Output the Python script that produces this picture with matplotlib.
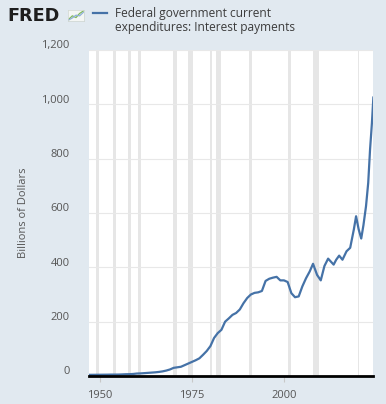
import matplotlib
matplotlib.use('Agg')
import matplotlib.pyplot as plt
from matplotlib.transforms import ScaledTranslation
import numpy as np

# values (billions of dollars)
years = [1947.0, 1948.0, 1949.0, 1950.0, 1951.0, 1952.0, 1953.0, 1954.0, 1955.0,
         1956.0, 1957.0, 1958.0, 1959.0, 1960.0, 1961.0, 1962.0, 1963.0, 1964.0,
         1965.0, 1966.0, 1967.0, 1968.0, 1969.0, 1970.0, 1971.0, 1972.0, 1973.0,
         1974.0, 1975.0, 1976.0, 1977.0, 1978.0, 1979.0, 1980.0, 1981.0, 1982.0,
         1983.0, 1984.0, 1985.0, 1986.0, 1987.0, 1988.0, 1989.0, 1990.0, 1991.0,
         1992.0, 1993.0, 1994.0, 1995.0, 1996.0, 1997.0, 1998.0, 1999.0, 2000.0,
         2001.0, 2002.0, 2003.0, 2004.0, 2005.0, 2006.0, 2007.0, 2007.9, 2009.0,
         2010.0, 2011.0, 2012.0, 2013.5, 2014.2, 2015.0, 2015.9, 2017.0, 2018.0,
         2019.0, 2019.6, 2020.3, 2021.0, 2021.6, 2022.3, 2022.9, 2023.4, 2023.9,
         2024.3]
interest = [4.2, 4.4, 4.5, 4.6, 4.8, 4.9, 5.2, 5.2, 5.3,
            5.8, 6.5, 6.7, 7.5, 9.0, 9.5, 10.5, 11.5, 12.5,
            13.5, 15, 17, 20, 24, 30, 32, 34, 40,
            46, 52, 58, 65, 78, 92, 110, 140, 158,
            170, 200, 212, 225, 232, 245, 268, 287, 300,
            306, 308, 313, 350, 358, 362, 365, 352, 352,
            346, 305, 290, 293, 330, 360, 385, 413, 372,
            352, 405, 432, 410, 428, 443, 428, 459, 472,
            540, 588, 540, 506, 555, 625, 711, 834, 930,
            1025]

recessions = [(1948.8, 1949.8), (1953.5, 1954.3), (1957.6, 1958.3), (1960.3, 1961.1),
              (1969.9, 1970.9), (1973.9, 1975.2), (1980.0, 1980.5), (1981.5, 1982.9),
              (1990.5, 1991.2), (2001.2, 2001.9), (2007.9, 2009.5), (2020.0, 2020.4)]

yticks = [0, 200, 400, 600, 800, 1000, 1200]
xticks = [1950, 1975, 2000]

plt.rcParams['font.family'] = ['Open Sans', 'DejaVu Sans']
bg = '#e1e9f0'
fig = plt.figure(figsize=(3.86, 4.04), dpi=100, facecolor=bg)
ax = fig.add_axes([89 / 386, 1 - 376 / 404, 284 / 386, 326 / 404])
ax.set_facecolor('white')

for a, b in recessions:
    ax.axvspan(a, b, color='#e6e6e6', lw=0, zorder=1)

ax.plot(years, interest, color='#4572a7', lw=1.6, zorder=3)

ax.set_xlim(1947.0, 2024.2)
ax.set_ylim(0, 1200)
ax.set_yticks(yticks)
ax.set_yticklabels(['{:,}'.format(v) for v in yticks], va='bottom')
ax.set_xticks(xticks)
ax.grid(axis='y', color='#e8e8e8', lw=0.8, zorder=0)
for s in ['top', 'right', 'left']:
    ax.spines[s].set_visible(False)
ax.spines['bottom'].set_color('black')
ax.spines['bottom'].set_linewidth(2)
ax.spines['bottom'].set_zorder(4)
ax.tick_params(axis='y', length=0, pad=14, labelsize=8, labelcolor='#555555')
ax.tick_params(axis='x', length=4, width=0.8, color='#c8c8c8', pad=6,
               labelsize=8, labelcolor='#555555')
for lbl in ax.get_yticklabels():
    lbl.set_transform(lbl.get_transform() + ScaledTranslation(0, -1 / 72, fig.dpi_scale_trans))
ax.set_ylabel('Billions of Dollars', fontsize=8, color='#555555', labelpad=9)

# header: FRED logo and legend
fig.text(7 / 386, 1 - 21 / 404, 'FRED', fontsize=12.7, fontweight='heavy', color='#1e1e1e',
         va='baseline', ha='left', family=['DejaVu Sans'])
icon = fig.add_axes([68 / 386, 1 - 21 / 404, 16 / 386, 11 / 404])
icon.set_facecolor('#f4f6f4')
icon.plot([0, 1, 2, 3, 4], [0.3, 1.3, 0.8, 2.0, 2.7], color='#7fb85c', lw=0.9)
icon.plot([0, 1, 2, 3, 4], [0.1, 0.7, 1.5, 1.3, 2.3], color='#8fb0d8', lw=0.9)
icon.set_xlim(-0.2, 4.2)
icon.set_ylim(-0.2, 3)
icon.set_xticks([])
icon.set_yticks([])
for s in icon.spines.values():
    s.set_color('#cfd6cf')
    s.set_linewidth(0.5)
fig.add_artist(plt.Line2D([93 / 386, 107 / 386], [1 - 13 / 404, 1 - 13 / 404],
                          color='#4572a7', lw=1.6))
fig.text(115 / 386, 1 - 13 / 404, 'Federal government current', fontsize=8.6,
         color='#3c3c3c', va='center', ha='left', fontweight='medium')
fig.text(115 / 386, 1 - 28 / 404, 'expenditures: Interest payments', fontsize=8.6,
         color='#3c3c3c', va='center', ha='left', fontweight='medium')

fig.savefig('out.png', dpi=100, facecolor=bg)
